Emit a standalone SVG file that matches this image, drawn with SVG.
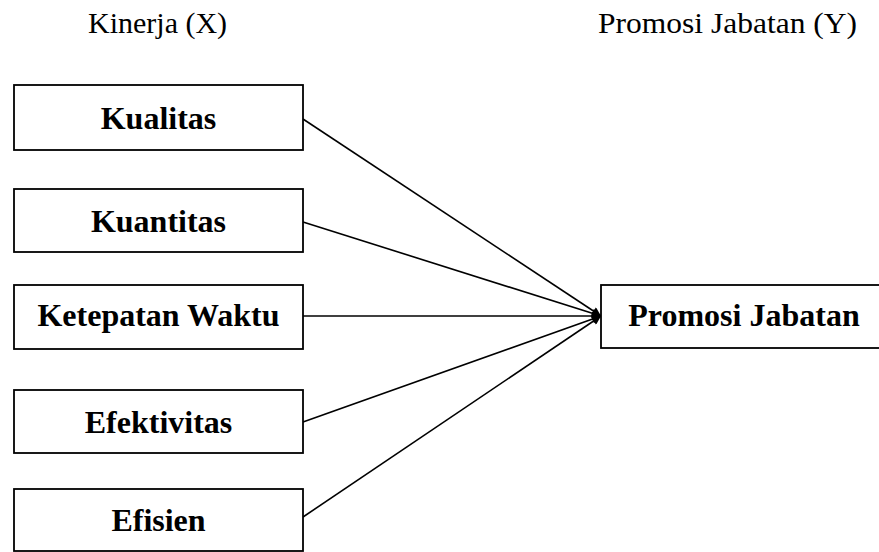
<svg xmlns="http://www.w3.org/2000/svg" width="879" height="552" viewBox="0 0 879 552">
<style>
.box{fill:#fff;stroke:#000;stroke-width:1.8}
.lbl{font-family:"Liberation Serif","Times New Roman",serif;font-weight:bold;font-size:32px;text-anchor:middle;fill:#000}
.ttl{font-family:"Liberation Serif","Times New Roman",serif;font-size:30px;fill:#000}
.con{stroke:#000;stroke-width:1.6;fill:none}
</style>
<defs>
<marker id="ah" viewBox="0 0 10 10" refX="10" refY="5" markerWidth="14" markerHeight="9" markerUnits="userSpaceOnUse" orient="auto">
<path d="M0,0 L10,5 L0,10 z" fill="#000"/>
</marker>
</defs>
<text class="ttl" x="88" y="33">Kinerja (X)</text>
<text class="ttl" x="598" y="33" textLength="259" lengthAdjust="spacingAndGlyphs">Promosi Jabatan (Y)</text>
<g id="connectors">
<line class="con" x1="303" y1="119" x2="601" y2="316" marker-end="url(#ah)"/>
<line class="con" x1="303" y1="222" x2="601" y2="316" marker-end="url(#ah)"/>
<line class="con" x1="303" y1="316" x2="601" y2="316" marker-end="url(#ah)"/>
<line class="con" x1="303" y1="422" x2="601" y2="316" marker-end="url(#ah)"/>
<line class="con" x1="303" y1="517" x2="601" y2="316" marker-end="url(#ah)"/>
</g>
<g id="kualitas"><rect class="box" x="14" y="85" width="289" height="65"/><text class="lbl" x="158.5" y="129">Kualitas</text></g>
<g id="kuantitas"><rect class="box" x="14" y="189" width="289" height="63"/><text class="lbl" x="158.5" y="232">Kuantitas</text></g>
<g id="ketepatan"><rect class="box" x="14" y="285" width="289" height="64"/><text class="lbl" x="158.5" y="326">Ketepatan Waktu</text></g>
<g id="efektivitas"><rect class="box" x="14" y="390" width="289" height="63"/><text class="lbl" x="158.5" y="433">Efektivitas</text></g>
<g id="efisien"><rect class="box" x="14" y="489" width="289" height="62"/><text class="lbl" x="158.5" y="531">Efisien</text></g>
<g id="promosi"><rect class="box" x="601" y="285" width="290" height="63"/><text class="lbl" x="744" y="326">Promosi Jabatan</text></g>
</svg>
